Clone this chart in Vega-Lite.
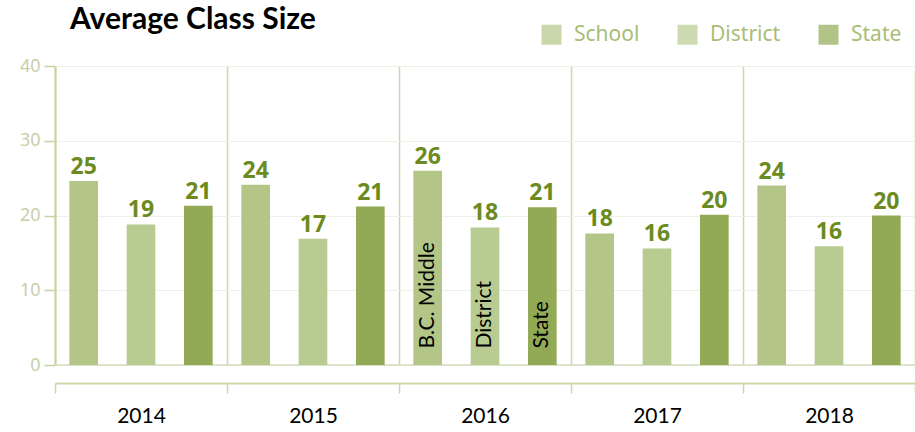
{
  "$schema": "https://vega.github.io/schema/vega-lite/v6.json",
  "width": 860,
  "height": 299,
  "autosize": {"type": "none"},
  "padding": {"left": 55, "top": 66, "right": 0, "bottom": 67},
  "background": "white",
  "title": {"text": "Average Class Size", "anchor": "start", "frame": "group", "dx": 15, "offset": -11, "font": "Lato", "fontSize": 30, "fontWeight": "bold", "color": "#000000"},
  "datasets": {
    "bars": [
      {"year": "2014", "series": "School", "value": 24.6},
      {"year": "2014", "series": "District", "value": 18.8},
      {"year": "2014", "series": "State", "value": 21.3},
      {"year": "2015", "series": "School", "value": 24.1},
      {"year": "2015", "series": "District", "value": 16.9},
      {"year": "2015", "series": "State", "value": 21.2},
      {"year": "2016", "series": "School", "value": 26.0},
      {"year": "2016", "series": "District", "value": 18.4},
      {"year": "2016", "series": "State", "value": 21.1},
      {"year": "2017", "series": "School", "value": 17.6},
      {"year": "2017", "series": "District", "value": 15.6},
      {"year": "2017", "series": "State", "value": 20.1},
      {"year": "2018", "series": "School", "value": 24.0},
      {"year": "2018", "series": "District", "value": 15.9},
      {"year": "2018", "series": "State", "value": 20.0}
    ],
    "notes": [
      {"year": "2016", "series": "School", "note": "B.C. Middle"},
      {"year": "2016", "series": "District", "note": "District"},
      {"year": "2016", "series": "State", "note": "State"}
    ]
  },
  "config": {"view": {"stroke": null}},
  "layer": [
    {
      "data": {"values": [{"z": 0}]},
      "mark": {"type": "rule", "color": "#d3dcbc", "strokeWidth": 1.5},
      "encoding": {"y": {"field": "z", "type": "quantitative"}}
    },
    {
      "data": {"name": "bars"},
      "mark": {"type": "bar"},
      "encoding": {
        "x": {
          "field": "year", "type": "nominal",
          "scale": {"paddingInner": 0, "paddingOuter": 0},
          "axis": {"orient": "bottom", "offset": 18, "tickBand": "extent", "grid": true, "gridColor": "#cbd8aa", "gridWidth": 1.5, "domainColor": "#cbd8aa", "domainWidth": 2, "tickColor": "#cbd8aa", "tickWidth": 1.5, "tickSize": 10, "labelFont": "Lato", "labelFontSize": 21, "labelColor": "#000000", "labelPadding": 12, "labelAngle": 0, "title": null}
        },
        "xOffset": {"field": "series", "type": "nominal", "sort": ["School", "District", "State"], "scale": {"paddingInner": 0.5, "paddingOuter": 0.25}},
        "y": {"field": "value", "type": "quantitative", "scale": {"domain": [0, 40]},
          "axis": {"values": [0, 10, 20, 30, 40], "grid": true, "gridColor": "#eef2e6", "domainColor": "#c6d4a2", "domainWidth": 2, "tickColor": "#c6d4a2", "tickWidth": 1.5, "tickSize": 11, "labelFont": "Noto Sans", "labelFontSize": 18, "labelColor": "#c6d0aa", "labelPadding": 4, "title": null}},
        "color": {"field": "series", "type": "nominal", "sort": ["School", "District", "State"],
          "scale": {"domain": ["School", "District", "State"], "range": ["#b3c688", "#b8cb91", "#92aa55"]},
          "legend": {"orient": "none", "direction": "horizontal", "legendX": 486, "legendY": -42, "title": null, "symbolType": "square", "symbolSize": 400, "symbolStrokeWidth": 0, "symbolOpacity": 0.7, "labelFont": "Noto Sans", "labelFontSize": 21, "labelColor": "#a9bd76", "labelOffset": 12, "columnPadding": 37}}
      }
    },
    {
      "data": {"name": "bars"},
      "mark": {"type": "text", "baseline": "bottom", "dy": -2, "font": "Noto Sans", "fontSize": 23, "fontWeight": "bold", "color": "#6b8b20"},
      "encoding": {
        "x": {"field": "year", "type": "nominal"},
        "xOffset": {"field": "series", "type": "nominal", "sort": ["School", "District", "State"]},
        "y": {"field": "value", "type": "quantitative"},
        "text": {"field": "value", "type": "quantitative", "format": ".0f"}
      }
    },
    {
      "data": {"name": "notes"},
      "mark": {"type": "text", "angle": 270, "align": "left", "baseline": "middle", "font": "Lato", "fontSize": 21, "color": "#000000"},
      "encoding": {
        "x": {"field": "year", "type": "nominal"},
        "xOffset": {"field": "series", "type": "nominal", "sort": ["School", "District", "State"]},
        "y": {"datum": 2.2},
        "text": {"field": "note", "type": "nominal"}
      }
    }
  ]
}
